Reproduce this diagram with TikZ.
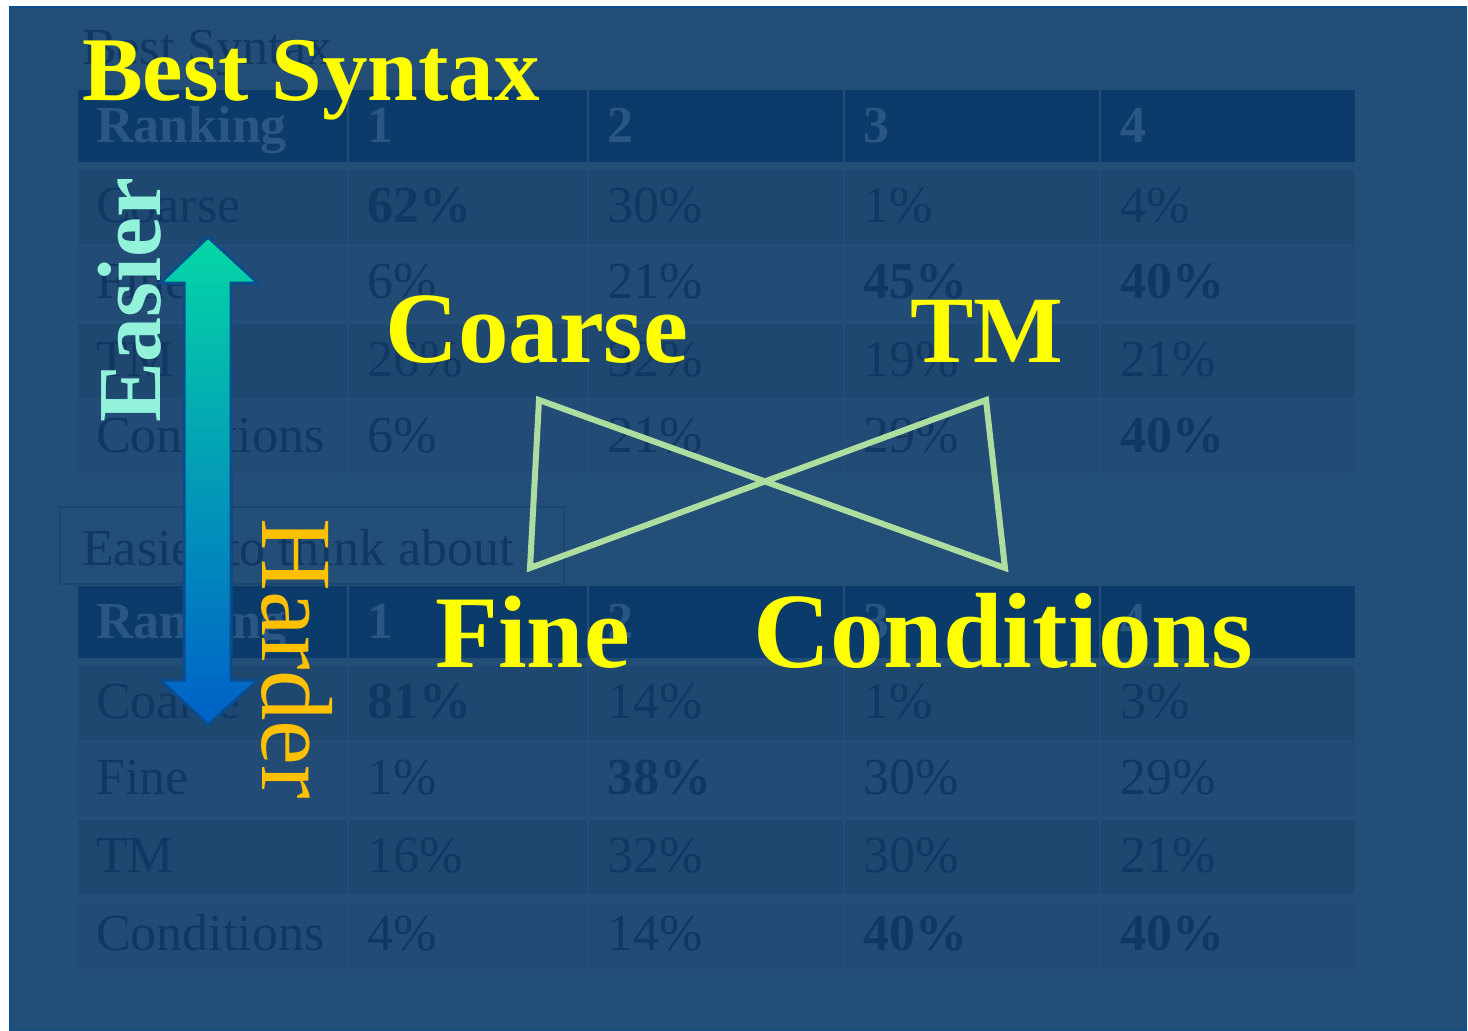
\documentclass[tikz,border=0pt]{standalone}
\usepackage{fontspec}
\setmainfont{Liberation Serif}
\definecolor{slidebg}{HTML}{234E77}
\definecolor{slideframe}{HTML}{0E4F8E}
\definecolor{headbg}{HTML}{0A3B6B}
\definecolor{rowa}{HTML}{1F4870}
\definecolor{rowb}{HTML}{224C75}
\definecolor{fainttext}{HTML}{113863}
\definecolor{headtext}{HTML}{2A5683}
\definecolor{capbox}{HTML}{1C466F}
\definecolor{bigyellow}{HTML}{FFFF00}
\definecolor{bowgreen}{HTML}{AEDDA0}
\definecolor{easytext}{HTML}{92F2DA}
\definecolor{hardtext}{HTML}{FFC000}
\definecolor{arrowtop}{HTML}{05D6A6}
\definecolor{arrowmid}{HTML}{19BDE6}
\definecolor{arrowbot}{HTML}{0060C8}
\definecolor{arrowrim}{HTML}{0B4C8C}
\tikzset{
  celltext/.style={anchor=base west, inner sep=0pt, text=fainttext,
    font=\fontsize{52}{56}\selectfont},
  headtxt/.style={celltext, text=headtext, font=\fontsize{52}{56}\selectfont\bfseries},
  biglabel/.style={anchor=base west, inner sep=0pt, text=bigyellow,
    font=\fontsize{101}{105}\selectfont\bfseries},
  bowtie/.style={draw=bowgreen, line width=6pt, line join=miter},
}
% one row of a ranking table: top y, fill, name, label, ranks 1-4
\newcommand{\rankrow}[8]{%
  \foreach \xa/\xb in {78/347,349/587,589/843,845/1099,1101/1355}
    \fill[#2] ({\xa},{#1}) rectangle ({\xb},{#1+74});
  \node[celltext] (#3-l) at (96,{#1+52}) {#4};
  \node[celltext] (#3-1) at (367,{#1+52}) {#5};
  \node[celltext] (#3-2) at (607,{#1+52}) {#6};
  \node[celltext] (#3-3) at (863,{#1+52}) {#7};
  \node[celltext] (#3-4) at (1120,{#1+52}) {#8};}
\newcommand{\headrow}[2]{%
  \foreach \xa/\xb in {78/347,349/587,589/843,845/1099,1101/1355}
    \fill[headbg] ({\xa},{#1}) rectangle ({\xb},{#1+72});
  \node[headtxt] (#2-l) at (96,{#1+52}) {Ranking};
  \foreach \c/\x in {1/367,2/607,3/863,4/1120}
    \node[headtxt] (#2-\c) at (\x,{#1+52}) {\c};}

\begin{document}
\begin{tikzpicture}[x=1pt, y=-1pt]
  \useasboundingbox (0,0) rectangle (1468,1031);
  \fill[white] (0,0) rectangle (1468,1031);
  \filldraw[fill=slidebg, draw=slideframe, line width=2.5pt] (10,7) rectangle (1466,1031);

  % faded tables behind
  \node[celltext] (title) at (82,64) {Best Syntax};
  \headrow{90}{syn}
  \rankrow{170}{rowa}{synA}{Coarse}{\textbf{62\%}}{30\%}{1\%}{4\%}
  \rankrow{246}{rowb}{synB}{Fine}{6\%}{21\%}{\textbf{45\%}}{\textbf{40\%}}
  \rankrow{324}{rowa}{synC}{TM}{26\%}{32\%}{19\%}{21\%}
  \rankrow{400}{rowb}{synD}{Conditions}{6\%}{21\%}{29\%}{\textbf{40\%}}

  \draw[capbox, line width=1.5pt] (60,507) rectangle (564,584);
  \node[celltext] (caption) at (82,565) {Easier to think about};
  \headrow{586}{thk}
  \rankrow{666}{rowa}{thkA}{Coarse}{\textbf{81\%}}{14\%}{1\%}{3\%}
  \rankrow{742}{rowb}{thkB}{Fine}{1\%}{\textbf{38\%}}{30\%}{29\%}
  \rankrow{820}{rowa}{thkC}{TM}{16\%}{32\%}{30\%}{21\%}
  \rankrow{898}{rowb}{thkD}{Conditions}{4\%}{14\%}{\textbf{40\%}}{\textbf{40\%}}

  % easier / harder arrow
  \shade[top color=arrowtop, middle color=arrowmid, bottom color=arrowbot,
    draw=arrowrim, line width=3pt, line join=miter]
    (208,237) -- (258,283) -- (231,283) -- (231,680) -- (258,680) -- (208,725)
    -- (160,680) -- (184,680) -- (184,283) -- (160,283) -- cycle;
  \node[rotate=90, anchor=base, inner sep=0pt, text=easytext,
    font=\fontsize{90}{94}\selectfont\bfseries] (easier) at (160,300) {Easier};
  \node[rotate=-90, anchor=base, inner sep=0pt, text=hardtext,
    font=\fontsize{101}{105}\selectfont] (harder) at (262,659) {Harder};

  % labels and bow tie
  \node[biglabel, font=\fontsize{91}{95}\selectfont\bfseries] (best) at (82,100) {Best Syntax};
  \node[biglabel] (coarse) at (385,362) {Coarse};
  \node[biglabel, font=\fontsize{95}{99}\selectfont\bfseries] (tm) at (910,362) {TM};
  \node[biglabel, font=\fontsize{103}{107}\selectfont\bfseries] (fine) at (435,667) {Fine};
  \node[biglabel, font=\fontsize{107}{111}\selectfont\bfseries] (cond) at (753,667) {Conditions};
  \coordinate (coarse-c) at (539,400);
  \coordinate (tm-c) at (986,400);
  \coordinate (cond-c) at (1005,568);
  \coordinate (fine-c) at (530,568);
  \draw[bowtie] (coarse-c) -- (cond-c) -- (tm-c) -- (fine-c) -- cycle;
\end{tikzpicture}
\end{document}
